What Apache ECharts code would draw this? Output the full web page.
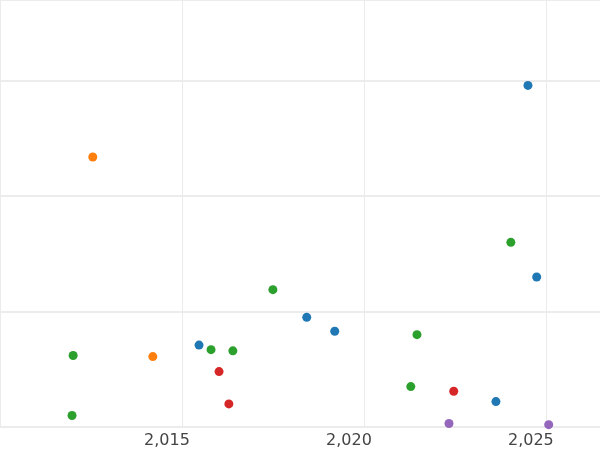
<!DOCTYPE html><html><head><meta charset="utf-8"><script src="https://cdn.jsdelivr.net/npm/echarts@6/dist/echarts.min.js"></script></head><body style="margin:0"><div id="c" style="width:600px;height:450px"></div><script>
const blue=[[2024.92,2.96],[2025.16,1.30],[2018.84,0.95],[2019.61,0.83],[2015.88,0.71],[2024.04,0.22]];
const orange=[[2012.96,2.34],[2014.61,0.61]];
const green=[[2012.42,0.62],[2012.39,0.10],[2016.21,0.67],[2016.81,0.66],[2017.91,1.19],[2021.87,0.80],[2021.70,0.35],[2024.45,1.60]];
const red=[[2016.43,0.48],[2016.70,0.20],[2022.88,0.31]];
const purple=[[2022.75,0.03],[2025.49,0.02]];
const xTicks=[2015,2020,2025];
const groups=[[blue,'#1f77b4'],[orange,'#ff7f0e'],[green,'#2ca02c'],[red,'#d62728'],[purple,'#9467bd']];
const ch=echarts.init(document.getElementById('c'));
ch.setOption({animation:false,grid:{left:0,right:0,top:0,bottom:23},
xAxis:{type:'value',min:2010.41,max:2026.9,interval:5,axisLine:{show:false},axisTick:{show:false},
 customValues:xTicks,
 axisLabel:{customValues:xTicks,color:'#444',fontSize:16,fontFamily:'DejaVu Sans',margin:6},
 splitLine:{show:true,lineStyle:{color:'#ebebeb',width:1}}},
yAxis:{type:'value',min:0,max:3.7,interval:1,axisLabel:{show:false},axisLine:{show:false},axisTick:{show:false},splitLine:{lineStyle:{color:'#e6e6e6',width:1.5}}},
series:groups.map(g=>({type:'scatter',data:g[0],symbolSize:9,clip:true,itemStyle:{color:g[1],opacity:1}}))});
</script></body></html>
